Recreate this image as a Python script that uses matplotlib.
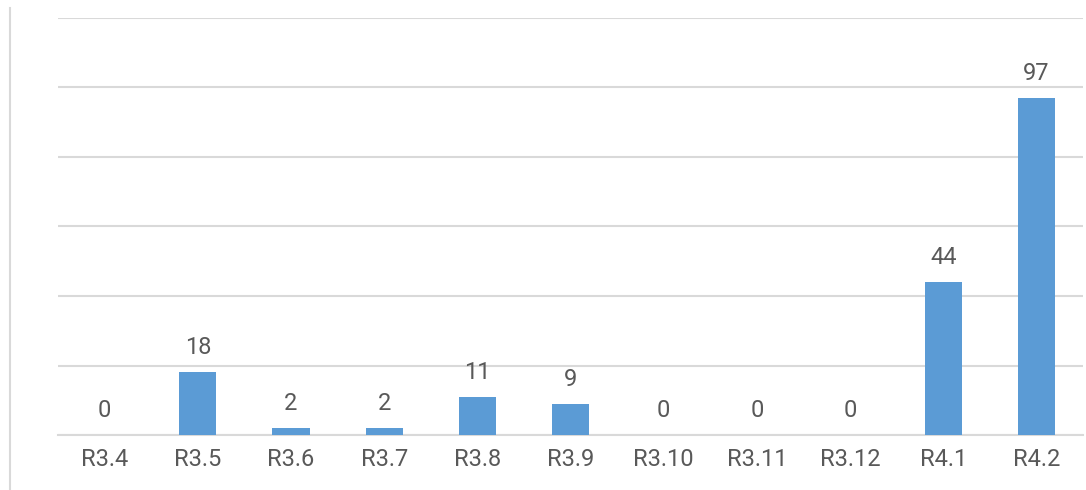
import matplotlib.pyplot as plt
from matplotlib.lines import Line2D

releases = ["R3.4", "R3.5", "R3.6", "R3.7", "R3.8", "R3.9", "R3.10", "R3.11", "R3.12", "R4.1", "R4.2"]
counts = [0, 18, 2, 2, 11, 9, 0, 0, 0, 44, 97]

plt.rcParams['font.family'] = ['Liberation Sans Narrow', 'Roboto', 'DejaVu Sans']

fig = plt.figure(figsize=(10.86, 4.9), dpi=100)
ax = fig.add_axes([58 / 1086, 55 / 490, 1025 / 1086, 417 / 490])

x = range(len(releases))
ax.bar(x, counts, width=0.4, color="#5B9BD5", zorder=3)

for i, v in zip(x, counts):
    ax.annotate(str(v), (i, v), xytext=(0, 13), textcoords="offset points",
                ha="center", va="baseline", fontsize=17, color="#595959")

ax.set_xlim(-0.5, len(releases) - 0.5)
ax.set_ylim(0, 120)
ax.set_yticks(range(0, 121, 20))
ax.set_yticklabels([])
ax.tick_params(axis="y", length=0)
ax.set_xticks(list(x))
ax.set_xticklabels(releases, fontsize=17, color="#595959")
ax.tick_params(axis="x", length=0, pad=9)
ax.grid(axis="y", color="#d9d9d9", linewidth=1.5, zorder=0)
for s in ["top", "right", "left"]:
    ax.spines[s].set_visible(False)
ax.spines["bottom"].set_color("#d9d9d9")
ax.spines["bottom"].set_linewidth(1.5)

# thin border line at the left edge of the chart area
fig.add_artist(Line2D([10 / 1086, 10 / 1086], [0, 482 / 490], color="#d9d9d9", linewidth=1.5))

fig.savefig("out.png", dpi=100)
